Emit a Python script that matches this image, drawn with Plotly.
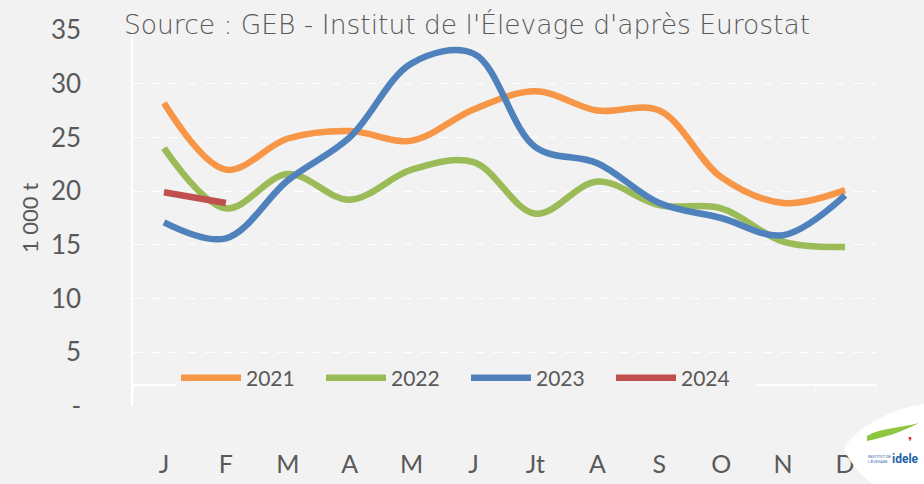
import plotly.graph_objects as go

# Monthly volumes, thousand tonnes
months = ["J", "F", "M", "A", "M ", "J ", "Jt", "A ", "S", "O", "N", "D"]
month_labels = ["J", "F", "M", "A", "M", "J", "Jt", "A", "S", "O", "N", "D"]

y2021 = [28.2, 22.0, 24.9, 25.6, 24.7, 27.6, 29.3, 27.5, 27.5, 21.3, 18.9, 20.1]
y2022 = [24.0, 18.4, 21.6, 19.2, 22.0, 22.7, 17.9, 20.9, 18.7, 18.4, 15.3, 14.8]
y2023 = [17.1, 15.6, 21.0, 25.0, 31.9, 32.8, 24.1, 22.6, 18.9, 17.5, 15.9, 19.6]
y2024 = [19.9, 18.9]

series = [
    ("2021", y2021, "#F79646"),
    ("2022", y2022, "#9BBB59"),
    ("2023", y2023, "#4F81BD"),
    ("2024", y2024, "#C0504D"),
]

y_ticks = [0, 5, 10, 15, 20, 25, 30, 35]
y_ticktext = ["-", "5", "10", "15", "20", "25", "30", "35"]

W, H = 924, 484
L, R, T, B = 133, 48, 30, 78
PW, PH = W - L - R, H - T - B


def px(x):
    return (x - L) / PW


def py(y):
    return (H - B - y) / PH


TXT = "#595959"
FONT = "Lato"
BG = "#F2F2F2"

fig = go.Figure()
for name, vals, col in series:
    fig.add_trace(go.Scatter(
        x=months[:len(vals)], y=vals, name=name, mode="lines",
        line=dict(color=col, width=6.5, shape="spline", smoothing=1.0),
        hoverinfo="skip",
    ))

fig.update_layout(
    width=W, height=H,
    margin=dict(l=L, r=R, t=T, b=B, autoexpand=False),
    paper_bgcolor=BG, plot_bgcolor=BG,
    font=dict(family=FONT, color=TXT),
    showlegend=True,
    legend=dict(
        orientation="h", x=px(176), xanchor="left", y=py(378), yanchor="middle",
        bgcolor=BG, font=dict(size=21, color=TXT, family=FONT),
        itemwidth=60, entrywidth=70, entrywidthmode="pixels",
        tracegroupgap=0, itemclick=False,
    ),
    xaxis=dict(
        type="category", categoryorder="array", categoryarray=months,
        tickvals=months, ticktext=month_labels,
        range=[-0.5, 11.5], anchor="free", position=py(385),
        showline=True, linecolor="white", linewidth=1.5,
        ticks="outside", tickcolor="white", ticklen=8, tickson="boundaries",
        showgrid=False, zeroline=False, automargin=False,
        tickfont=dict(size=25, color=TXT, family=FONT),
        ticklabelstandoff=57,
    ),
    yaxis=dict(
        range=[0, 35], tickvals=y_ticks, ticktext=y_ticktext,
        showgrid=True, gridcolor="white", gridwidth=1, griddash="dash",
        zeroline=False, showline=True, linecolor="white", linewidth=1.5,
        ticks="", tickfont=dict(size=26, color=TXT, family=FONT),
        ticklabelstandoff=45, automargin=False,
        title=dict(text="1 000 t", font=dict(size=22, color=TXT, family=FONT), standoff=6),
    ),
)

# Source line across the top
fig.add_annotation(
    text="Source : GEB - Institut de l'Élevage d'après Eurostat",
    xref="paper", yref="paper", x=px(122), y=py(24), xanchor="left", yanchor="middle",
    showarrow=False, font=dict(size=26.5, color=TXT, family="DejaVu Sans", weight=300),
)

# Logo badge, bottom right
fig.add_shape(
    type="path", xref="paper", yref="paper", layer="above",
    path=(f"M {px(844)},{py(448)} C {px(858)},{py(425)} {px(895)},{py(408)} {px(924)},{py(404)} "
          f"L {px(924)},{py(484)} L {px(872)},{py(484)} C {px(858)},{py(472)} {px(848)},{py(460)} {px(844)},{py(448)} Z"),
    fillcolor="white", line=dict(width=0),
)
fig.add_shape(
    type="path", xref="paper", yref="paper", layer="above",
    path=(f"M {px(867)},{py(436)} C {px(880)},{py(428)} {px(900)},{py(428)} {px(919)},{py(423)} "
          f"C {px(900)},{py(433)} {px(882)},{py(438)} {px(867)},{py(441)} Z"),
    fillcolor="#8DC63F", line=dict(width=0),
)
fig.add_annotation(
    text="<b>idele</b>", xref="paper", yref="paper", x=px(921), y=py(459),
    xanchor="right", yanchor="middle", showarrow=False,
    font=dict(size=12, color="#1F5FA8", family="Roboto"),
)
fig.add_annotation(
    text="INSTITUT DE<br>L'ÉLEVAGE", xref="paper", yref="paper", x=px(866), y=py(459),
    xanchor="left", yanchor="middle", showarrow=False, align="left",
    font=dict(size=4, color="#1F5FA8", family="Roboto"),
)
fig.add_annotation(
    text="<b>❜</b>", xref="paper", yref="paper", x=px(910), y=py(442),
    xanchor="center", yanchor="middle", showarrow=False,
    font=dict(size=12, color="#E2231A", family="DejaVu Sans"),
)

fig.write_html("out.html")
